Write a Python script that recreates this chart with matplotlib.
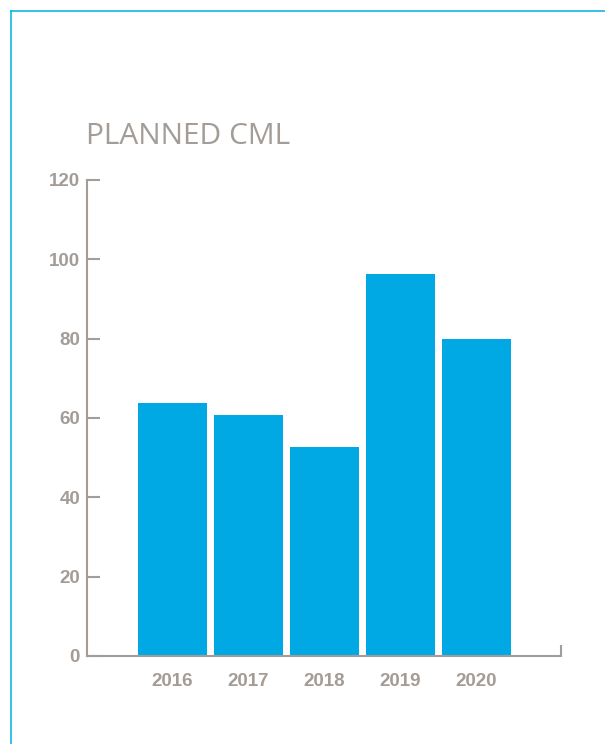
import matplotlib
matplotlib.use("Agg")
import matplotlib.pyplot as plt
from matplotlib.lines import Line2D

years = ["2016", "2017", "2018", "2019", "2020"]
values = [63.8, 60.8, 52.7, 96.3, 79.9]
yticks = [0, 20, 40, 60, 80, 100, 120]
title = "PLANNED CML"

W, H = 605, 744
fig = plt.figure(figsize=(W / 100, H / 100), dpi=100)
gray = "#a49c96"
bar_color = "#00a8e4"

ax = fig.add_axes([87 / W, (H - 656) / H, (561 - 87) / W, (656 - 180) / H])
x = list(range(len(years)))
ax.bar(x, values, width=0.905, color=bar_color, zorder=2)
ax.set_xlim(-1.125, 5.11)
ax.set_ylim(0, 120)
ax.set_yticks(yticks)
ax.set_yticklabels([str(t) for t in yticks])
ax.set_xticks(x)
ax.set_xticklabels(years)

for s in ["top", "right"]:
    ax.spines[s].set_visible(False)
for s in ["left", "bottom"]:
    ax.spines[s].set_color(gray)
    ax.spines[s].set_linewidth(1.5)

ax.tick_params(axis="y", direction="in", length=9, width=1.5, color=gray,
               labelcolor=gray, pad=5, labelsize=13.5)
ax.tick_params(axis="x", length=0, labelcolor=gray, pad=12, labelsize=13.5)
for lab in ax.get_xticklabels() + ax.get_yticklabels():
    lab.set_fontfamily("Liberation Sans")
    lab.set_fontweight("bold")

# right end tick of x axis
ax.plot([1, 1], [0, 11 / 476], transform=ax.transAxes, color=gray, lw=1.5,
        clip_on=False, solid_capstyle="butt")

fig.text(86 / W, (H - 137) / H, title, color=gray, fontsize=21.5,
         fontfamily="Open Sans", fontweight="medium", va="center", ha="left")

# frame
border = "#12b5e8"
fig.add_artist(Line2D([11 / W, 11 / W], [0, (H - 11) / H], color=border, lw=1.2,
                      transform=fig.transFigure))
fig.add_artist(Line2D([11 / W, 1], [(H - 11) / H, (H - 11) / H], color=border, lw=1.2,
                      transform=fig.transFigure))

fig.savefig("out.png", dpi=100)
